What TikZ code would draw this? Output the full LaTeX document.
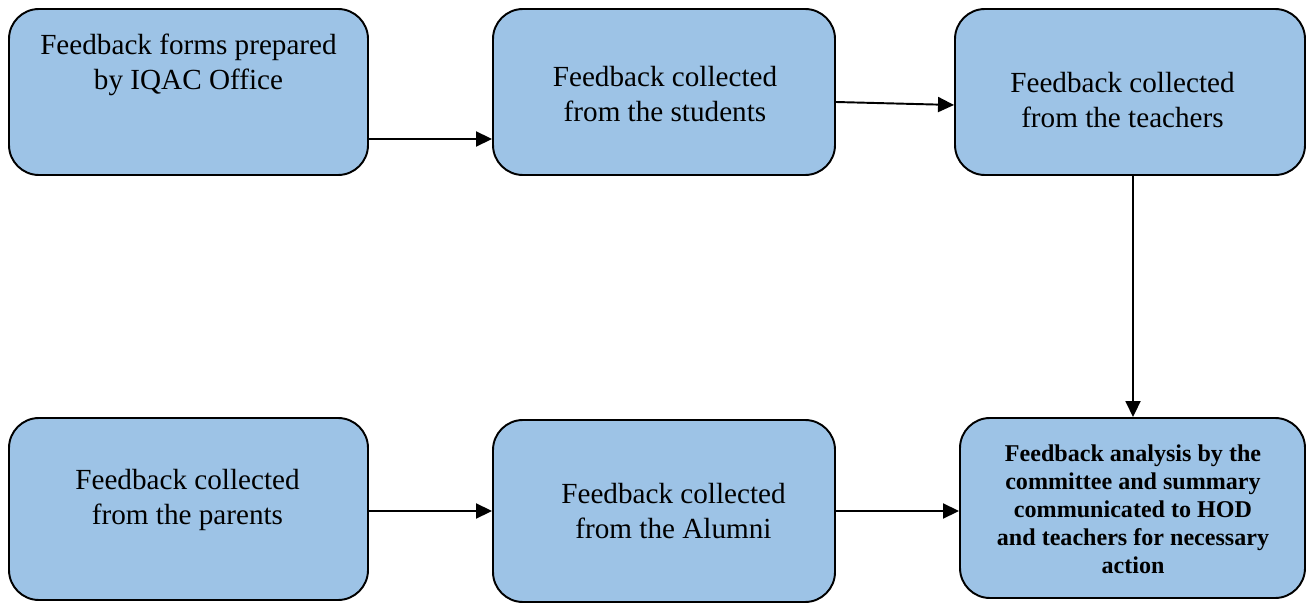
\documentclass[tikz,border=0pt]{standalone}
\usepackage{fontspec}
\setmainfont{Liberation Serif}
\newfontfamily\stagefont{Liberation Serif}
\usepackage{xcolor}
\usetikzlibrary{arrows.meta}

\definecolor{stageblue}{HTML}{9DC3E6}

\tikzset{
  stage/.style={draw=black, line width=1.1pt, fill=stageblue, rounded corners=0.6cm, inner sep=0pt},
  stagetext/.style={align=center, font=\stagefont\fontsize{16.6}{19.9}\selectfont},
  boldtext/.style={align=center, font=\stagefont\fontsize{13.7}{15.9}\selectfont\bfseries},
  flow/.style={line width=1.1pt, -{Triangle[length=3.2mm,width=3mm]}}
}

\begin{document}
\begin{tikzpicture}
  \useasboundingbox (0,0) rectangle (26.3,12.06);

  % Top row of boxes
  \node[stage, minimum width=7.18cm, minimum height=3.32cm] (forms) at (3.77,10.22) {};
  \node[stagetext] (formstext) at (3.77,10.76) {Feedback forms prepared\\by IQAC Office};
  \node[stage, minimum width=6.84cm, minimum height=3.32cm] (students) at (13.28,10.22) {};
  \node[stagetext] (studentstext) at (13.3,10.18) {Feedback collected\\from the students};
  \node[stage, minimum width=7.0cm, minimum height=3.32cm] (teachers) at (22.6,10.22) {};
  \node[stagetext] (teacherstext) at (22.45,10.06) {Feedback collected\\from the teachers};

  % Bottom row of boxes
  \node[stage, minimum width=7.18cm, minimum height=3.64cm] (parents) at (3.77,1.88) {};
  \node[stagetext] (parentstext) at (3.75,2.07) {Feedback collected\\from the parents};
  \node[stage, minimum width=6.84cm, minimum height=3.64cm] (alumni) at (13.28,1.84) {};
  \node[stagetext] (alumnitext) at (13.47,1.84) {Feedback collected\\from the Alumni};
  \node[stage, minimum width=6.9cm, minimum height=3.6cm] (analysis) at (22.65,1.90) {};
  \node[boldtext] (analysistext) at (22.66,1.88) {Feedback analysis by the\\committee and summary\\communicated to HOD\\and teachers for necessary\\action};

  % Arrows
  \draw[flow] ([yshift=-0.94cm]forms.east) -- ([yshift=-0.94cm]students.west);
  \draw[flow] ([yshift=-0.2cm]students.east) -- ([yshift=-0.26cm]teachers.west);
  \draw[flow] ([xshift=0.01cm]analysis.north |- teachers.south) -- ([xshift=0.01cm]analysis.north);
  \draw[flow] ([yshift=-0.04cm]parents.east) -- (alumni.west);
  \draw[flow] (alumni.east) -- (alumni.east -| analysis.west);
\end{tikzpicture}
\end{document}
